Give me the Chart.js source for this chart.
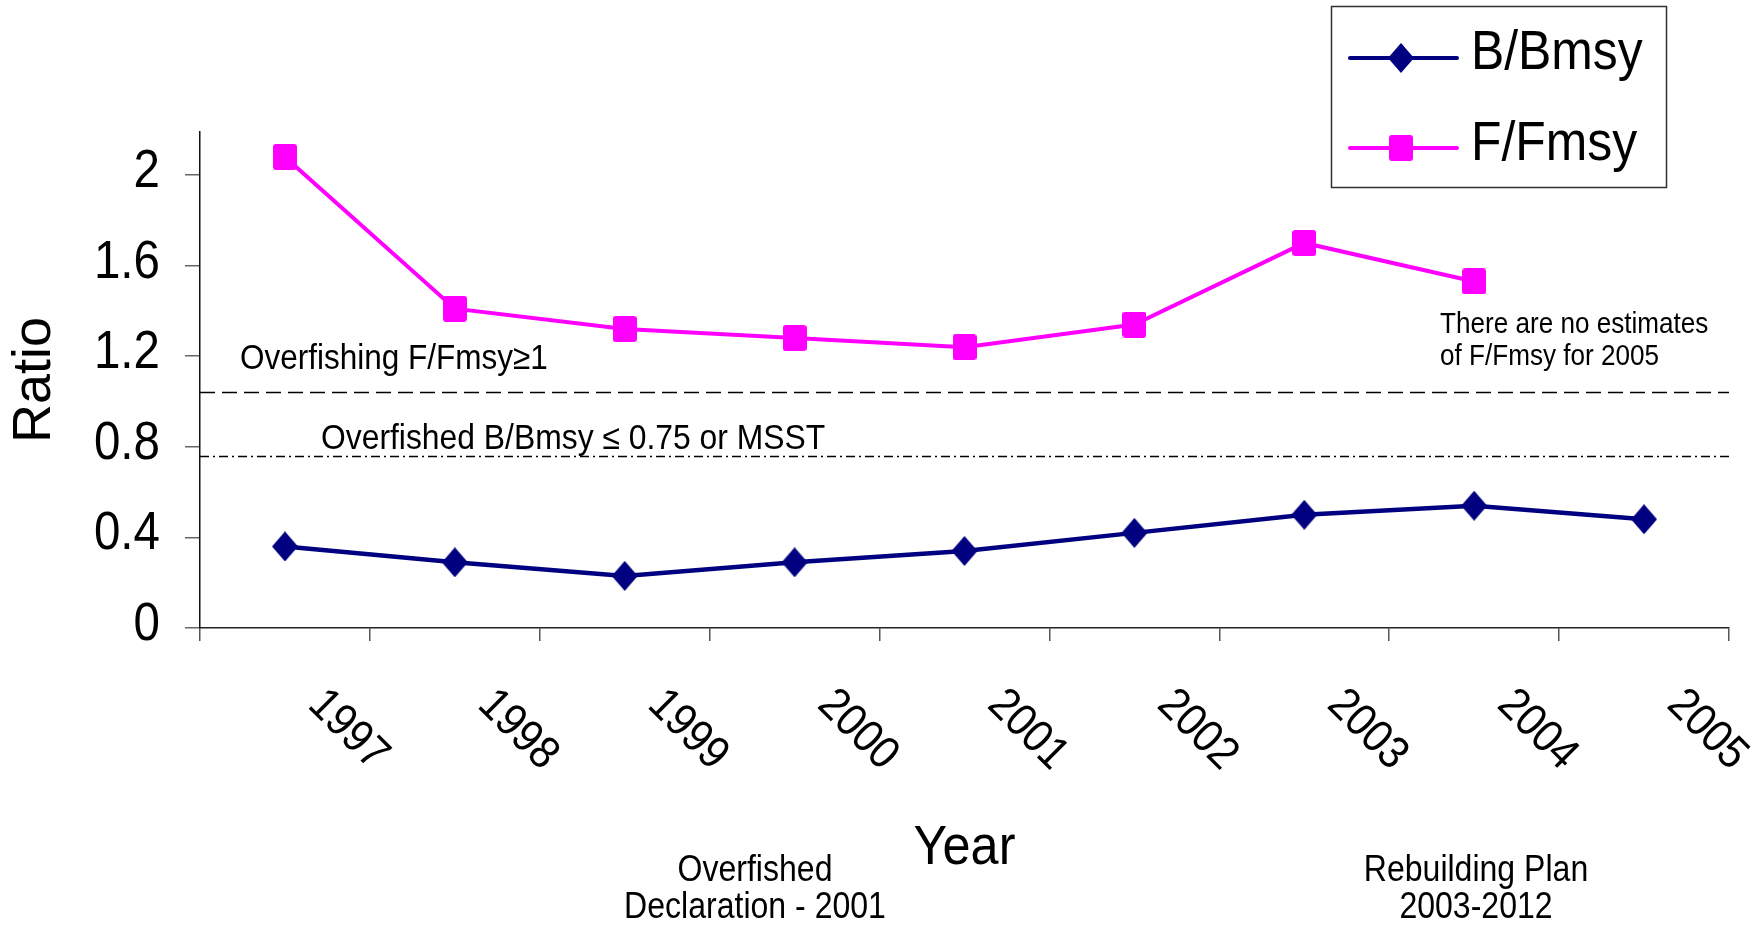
<!DOCTYPE html>
<html lang="en">
<head>
<meta charset="UTF-8">
<title>B/Bmsy and F/Fmsy</title>
<script src="https://cdn.jsdelivr.net/npm/chart.js"></script>
<style>
    html, body { margin: 0; padding: 0; background: #fff; }
    #wrap { width: 1764px; height: 925px; }
</style>
</head>
<body>
<div id="wrap"><canvas id="ratioChart" width="1764" height="925"></canvas></div>
<script>
    // data
    const years = ['1997', '1998', '1999', '2000', '2001', '2002', '2003', '2004', '2005'];
    const bBmsy = [0.36, 0.29, 0.23, 0.29, 0.34, 0.42, 0.50, 0.54, 0.48];
    const fFmsy = [2.08, 1.41, 1.32, 1.28, 1.24, 1.34, 1.70, 1.53, null]; // no F estimate for 2005
    const yTicks = [0, 0.4, 0.8, 1.2, 1.6, 2];
    const yMax = 2.19;
    const overfishingLevel = 1.04;
    const overfishedLevel = 0.76;

    const FONT = '"Liberation Sans", Arial, sans-serif';
    const navy = '#000080';
    const magenta = '#FF00FF';

    // marker shapes (a little taller than wide in the original)
    function makeDiamond(w, h, color) {
        const c = document.createElement('canvas');
        c.width = w; c.height = h;
        const g = c.getContext('2d');
        g.fillStyle = color;
        g.beginPath();
        g.moveTo(w / 2, 0); g.lineTo(w, h / 2); g.lineTo(w / 2, h); g.lineTo(0, h / 2);
        g.closePath();
        g.fill();
        return c;
    }
    function makeSquare(w, h, color) {
        const c = document.createElement('canvas');
        c.width = w; c.height = h;
        const g = c.getContext('2d');
        g.fillStyle = color;
        g.beginPath();
        g.roundRect(0, 0, w, h, 3);
        g.fill();
        return c;
    }
    const diamond = makeDiamond(26, 30, navy);
    const square = makeSquare(24, 26, magenta);

    // the original font is a bit narrower than Arial, so squeeze it along the text
    function txt(ctx, s, x, y, size, sx, align, rot) {
        ctx.save();
        ctx.translate(x, y);
        if (rot) ctx.rotate(rot);
        ctx.scale(sx, 1);
        ctx.font = size + 'px ' + FONT;
        ctx.textAlign = align || 'left';
        ctx.textBaseline = 'middle';
        ctx.fillStyle = '#000';
        ctx.fillText(s, 0, 0);
        ctx.restore();
    }

    const extrasPlugin = {
        id: 'extras',
        afterDatasetsDraw(chart) {
            const ctx = chart.ctx;
            const area = chart.chartArea;
            const xs = chart.scales.x;
            const ys = chart.scales.y;

            // threshold lines
            ctx.save();
            ctx.strokeStyle = '#000';
            ctx.lineWidth = 1.5;
            const y1 = Math.round(ys.getPixelForValue(overfishingLevel)) + 0.5;
            ctx.setLineDash([15, 7]);
            ctx.beginPath(); ctx.moveTo(area.left, y1); ctx.lineTo(area.right, y1); ctx.stroke();
            const y2 = Math.round(ys.getPixelForValue(overfishedLevel)) + 0.5;
            ctx.setLineDash([9, 4, 2, 4]);
            ctx.beginPath(); ctx.moveTo(area.left, y2); ctx.lineTo(area.right, y2); ctx.stroke();
            ctx.restore();

            txt(ctx, 'Overfishing F/Fmsy\u22651', 240, y1 - 33, 35, 0.9);
            txt(ctx, 'Overfished B/Bmsy \u2264 0.75 or MSST', 321, y2 - 17, 35, 0.91);
            txt(ctx, 'There are no estimates', 1440, 325, 29, 0.9);
            txt(ctx, 'of F/Fmsy for 2005', 1440, 357, 29, 0.9);

            txt(ctx, 'Overfished', 755, 871, 36, 0.89, 'center');
            txt(ctx, 'Declaration - 2001', 755, 908, 36, 0.89, 'center');
            txt(ctx, 'Rebuilding Plan', 1476, 871, 36, 0.89, 'center');
            txt(ctx, '2003-2012', 1476, 908, 36, 0.89, 'center');

            // y tick labels
            yTicks.forEach(v => {
                txt(ctx, String(v), 160, ys.getPixelForValue(v) - 3, 54, 0.88, 'right');
            });
            // rotated year labels
            years.forEach((yr, i) => {
                txt(ctx, yr, xs.getPixelForValue(i) + 63, area.bottom + 102, 46, 0.9, 'center', 45 * Math.PI / 180);
            });
            // axis titles
            txt(ctx, 'Ratio', 35, (area.top + area.bottom) / 2, 54, 1, 'center', -Math.PI / 2);
            txt(ctx, 'Year', (area.left + area.right) / 2, 849, 56, 0.9, 'center');

            // legend box
            ctx.save();
            ctx.fillStyle = '#fff';
            ctx.fillRect(1331, 6, 335, 181);
            ctx.strokeStyle = '#303030';
            ctx.lineWidth = 1.5;
            ctx.strokeRect(1331.5, 6.5, 335, 181);
            const items = [
                { label: 'B/Bmsy', ds: chart.data.datasets[0], marker: diamond, y: 58, ty: 54 },
                { label: 'F/Fmsy', ds: chart.data.datasets[1], marker: square, y: 148, ty: 145 }
            ];
            items.forEach(it => {
                ctx.strokeStyle = it.ds.borderColor;
                ctx.lineWidth = 4;
                ctx.lineCap = 'round';
                ctx.beginPath(); ctx.moveTo(1350, it.y); ctx.lineTo(1457, it.y); ctx.stroke();
                ctx.drawImage(it.marker, 1401 - it.marker.width / 2, it.y - it.marker.height / 2);
                txt(ctx, it.label, 1471, it.ty, 56, 0.89);
            });
            ctx.restore();
        }
    };

    const ctx = document.getElementById('ratioChart').getContext('2d');
    const chart = new Chart(ctx, {
        type: 'line',
        data: {
            labels: years,
            datasets: [
                {
                    label: 'B/Bmsy',
                    data: bBmsy,
                    borderColor: navy,
                    backgroundColor: navy,
                    borderWidth: 4.5,
                    pointStyle: diamond,
                    pointRadius: 13,
                    tension: 0,
                    fill: false
                },
                {
                    label: 'F/Fmsy',
                    data: fFmsy,
                    borderColor: magenta,
                    backgroundColor: magenta,
                    borderWidth: 4,
                    pointStyle: square,
                    pointRadius: 13,
                    tension: 0,
                    fill: false
                }
            ]
        },
        options: {
            responsive: false,
            animation: false,
            layout: { padding: { top: 132, right: 35, left: 0, bottom: 0 } },
            plugins: {
                legend: { display: false },
                tooltip: { enabled: false }
            },
            scales: {
                x: {
                    offset: true,
                    grid: { offset: true, drawOnChartArea: false, drawTicks: true, tickLength: 13, color: '#555', lineWidth: 1.5 },
                    border: { color: '#222', width: 1.5 },
                    ticks: { display: false },
                    afterFit(scale) { scale.height = 297; }
                },
                y: {
                    min: 0,
                    max: yMax,
                    afterBuildTicks(scale) { scale.ticks = yTicks.map(v => ({ value: v })); },
                    grid: { drawOnChartArea: false, drawTicks: true, tickLength: 15, color: '#666', lineWidth: 1.5 },
                    border: { color: '#111', width: 1.5 },
                    ticks: { display: false },
                    afterFit(scale) { scale.width = 200; }
                }
            }
        },
        plugins: [extrasPlugin]
    });
</script>
</body>
</html>
